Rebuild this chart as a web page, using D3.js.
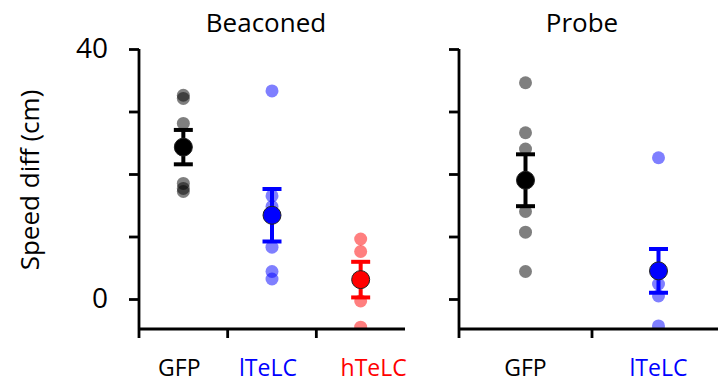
<!DOCTYPE html>
<html>
<head>
  <meta charset="utf-8">
  <title>Speed diff</title>
  <script src="https://d3js.org/d3.v7.min.js"></script>
  <style>
    body { margin: 0; background: #fff; }
    text { font-family: "Open Sans", sans-serif; }
    .axis path, .axis line { stroke: #000; stroke-width: 2.8px; }
  </style>
</head>
<body>
<svg width="718" height="383"></svg>
<script>
// ---- data ----
var beaconedGroups = ["GFP", "lTeLC", "hTeLC"];
var beaconedGFP   = [32.6, 32.1, 28.1, 18.5, 17.7, 17.2];
var beaconedLTeLC = [33.3, 16.5, 14.8, 8.3, 4.4, 3.2];
var beaconedHTeLC = [9.6, 7.6, -0.3, -4.5];
var beaconedMean  = [24.3, 13.4, 3.1];
var beaconedSem   = [2.75, 4.2, 2.85];

var probeGroups = ["GFP", "lTeLC"];
var probeGFP    = [34.6, 26.6, 24.0, 14.0, 10.7, 4.4];
var probeLTeLC  = [22.6, 4.5, 2.4, 0.5, -4.3];
var probeMean   = [19.0, 4.5];
var probeSem    = [4.15, 3.5];

var yTicks = [0, 10, 20, 30, 40];
var yTickLabels = ["0", "", "", "", "40"];

var colors = { GFP: "#000000", lTeLC: "#0000ff", hTeLC: "#ff0000" };

// ---- layout ----
var svg = d3.select("svg");
var y = d3.scaleLinear().domain([0, 40]).range([299, 49]);
var axisBottomY = 329;

function panel(opts) {
  var g = svg.append("g");
  var x = d3.scaleBand().domain(opts.groups).range([opts.x0, opts.x1]).padding(0);

  var clipId = "clip" + opts.id;
  svg.append("clipPath").attr("id", clipId)
    .append("rect")
      .attr("x", opts.x0).attr("y", 0)
      .attr("width", opts.x1 - opts.x0).attr("height", axisBottomY);

  var plot = g.append("g").attr("clip-path", "url(#" + clipId + ")");

  // individual animals
  opts.groups.forEach(function(grp, i) {
    plot.selectAll(".pt" + i)
      .data(opts.points[i])
      .enter()
      .append("circle")
        .attr("cx", x(grp) + x.bandwidth() / 2)
        .attr("cy", function(d) { return y(d); })
        .attr("r", 6.5)
        .attr("fill", colors[grp])
        .attr("fill-opacity", 0.5);
  });

  // mean +- sem
  opts.groups.forEach(function(grp, i) {
    var cx = x(grp) + x.bandwidth() / 2;
    var m = opts.mean[i], s = opts.sem[i];
    var eb = plot.append("g").attr("stroke", colors[grp]).attr("stroke-width", 4);
    eb.append("line").attr("x1", cx).attr("x2", cx).attr("y1", y(m + s)).attr("y2", y(m - s));
    eb.append("line").attr("x1", cx - 9.5).attr("x2", cx + 9.5).attr("y1", y(m + s)).attr("y2", y(m + s));
    eb.append("line").attr("x1", cx - 9.5).attr("x2", cx + 9.5).attr("y1", y(m - s)).attr("y2", y(m - s));
    plot.append("circle")
      .attr("cx", cx).attr("cy", y(m)).attr("r", 9)
      .attr("fill", colors[grp])
      .attr("stroke", "#222").attr("stroke-width", 1);
  });

  // y axis
  var yAxis = g.append("g").attr("class", "axis")
      .attr("transform", "translate(" + opts.x0 + ",0)")
      .call(d3.axisLeft(y).tickValues(yTicks).tickSize(10)
        .tickFormat(function(d, i) { return opts.yLabels ? yTickLabels[i] : ""; }));
  yAxis.select(".domain").attr("d", "M0," + y(40) + "V" + axisBottomY);
  yAxis.selectAll("text").attr("font-size", 28).attr("fill", "#000")
      .attr("font-family", "'Open Sans', sans-serif").attr("dx", -18);

  // x axis: ticks on category boundaries
  var bounds = opts.groups.map(function(d) { return x(d); });
  var xAxis = g.append("g").attr("class", "axis");
  xAxis.append("line")
      .attr("x1", opts.x0).attr("x2", Math.min(opts.x1, 718))
      .attr("y1", axisBottomY).attr("y2", axisBottomY);
  xAxis.selectAll(".tk").data(bounds).enter().append("line")
      .attr("x1", function(d) { return d; }).attr("x2", function(d) { return d; })
      .attr("y1", axisBottomY).attr("y2", axisBottomY + 9);

  g.selectAll(".cat").data(opts.groups).enter().append("text")
      .attr("x", function(d, i) { return x(d) + x.bandwidth() / 2 + (opts.labelNudge ? opts.labelNudge[i] : 0); })
      .attr("y", 376)
      .attr("text-anchor", "middle")
      .attr("font-size", 23)
      .attr("fill", function(d) { return colors[d]; })
      .text(function(d) { return d; });

  g.append("text")
      .attr("x", opts.titleX).attr("y", 32)
      .attr("text-anchor", "middle")
      .attr("font-size", 26)
      .text(opts.title);
}

panel({
  id: "b", title: "Beaconed", titleX: 266,
  groups: beaconedGroups, x0: 139, x1: 405,
  points: [beaconedGFP, beaconedLTeLC, beaconedHTeLC],
  mean: beaconedMean, sem: beaconedSem, yLabels: true,
  labelNudge: [-4, -4, 13]
});

panel({
  id: "p", title: "Probe", titleX: 582,
  groups: probeGroups, x0: 459, x1: 725,
  points: [probeGFP, probeLTeLC],
  mean: probeMean, sem: probeSem, yLabels: false
});

// y axis title
svg.append("text")
  .attr("transform", "translate(39,180) rotate(-90)")
  .attr("text-anchor", "middle")
  .attr("font-size", 26)
  .text("Speed diff (cm)");
</script>
</body>
</html>
